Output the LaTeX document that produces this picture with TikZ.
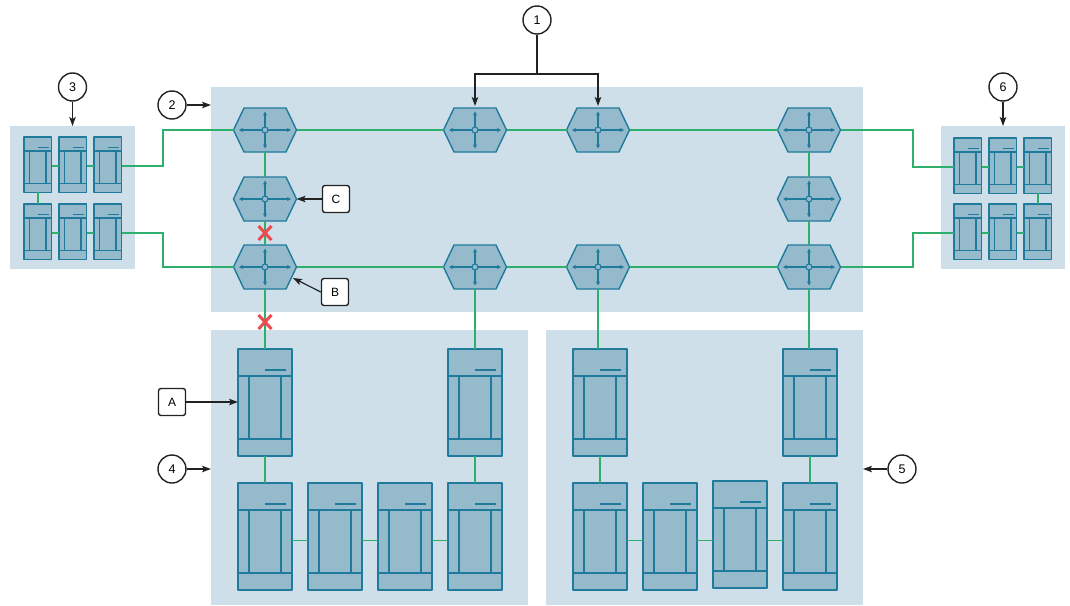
\documentclass[tikz,border=0pt]{standalone}
\usepackage{fontspec}
\setmainfont{Liberation Sans}
\usetikzlibrary{arrows.meta,shapes.misc,calc}
\definecolor{bgblue}{HTML}{CFDFE9}
\definecolor{unitfill}{HTML}{95BACC}
\definecolor{unitline}{HTML}{1F7A9C}
\definecolor{linkgreen}{HTML}{2FAF6C}
\definecolor{crossred}{HTML}{EE4B50}
\definecolor{leadgray}{HTML}{222222}
\tikzset{
  zone/.style={fill=bgblue,draw=none,inner sep=0pt,outer sep=0pt},
  unitbody/.style={draw=unitline,fill=unitfill,line join=round},
  unitin/.style={draw=unitline},
  hexanchor/.style={inner sep=0pt,outer sep=0pt,minimum width=63pt,minimum height=44pt},
  rackanchor/.style={inner sep=0pt,outer sep=0pt,minimum width=54pt,minimum height=107pt,transform shape},
  link/.style={draw=linkgreen,line width=1.6pt},
  thinlink/.style={draw=linkgreen,line width=1.6pt},
  heavylink/.style={draw=linkgreen,line width=2pt,line join=miter},
  lead/.style={draw=leadgray,line width=1.2pt,-{Stealth[length=9pt,width=6.5pt,inset=2pt]}},
  plainlead/.style={draw=leadgray,line width=1.2pt},
  callout/.style={circle,draw=leadgray,fill=white,line width=1.4pt,minimum size=28pt,inner sep=0pt,font=\fontsize{12.5}{14}\selectfont},
  keybox/.style={rectangle,rounded corners=2.5pt,draw=leadgray,fill=white,line width=1.4pt,minimum size=27pt,inner sep=0pt,font=\fontsize{12}{14}\selectfont},
  crossmark/.style={cross out,draw=crossred,line width=3pt,minimum width=13pt,minimum height=14pt,inner sep=0pt,outer sep=0pt},
}
% hexagonal switch: name, centre x, centre y
\newcommand{\hexunit}[3]{%
  \node[hexanchor] (#1) at (#2,#3) {};
  \begin{scope}[shift={(#2,#3)}]
    \draw[unitbody,line width=1.4pt] (-31.5,0) -- (-21,-22) -- (21,-22) -- (31.5,0) -- (21,22) -- (-21,22) -- cycle;
    \draw[unitin,line width=1.1pt,{Stealth[length=4pt,width=4pt]}-{Stealth[length=4pt,width=4pt]}] (-26,0) -- (26,0);
    \draw[unitin,line width=1.1pt,{Stealth[length=4pt,width=4pt]}-{Stealth[length=4pt,width=4pt]}] (0,-18.5) -- (0,18.5);
    \draw[unitin,fill=unitfill,line width=1.1pt] (0,0) circle (3pt);
  \end{scope}}
% rack: name, left, top, scale, line width, inner line width
\newcommand{\rackunit}[6]{%
  \begin{scope}[shift={(#2,#3)},scale=#4]
    \node[rackanchor] (#1) at (27,53.5) {};
    \draw[unitbody,line width=#5] (0,0) rectangle (54,107);
    \draw[unitin,line width=#5] (0,27) -- (54,27) (0,90) -- (54,90);
    \draw[unitin,line width=#6] (11,27) -- (11,90) (43,27) -- (43,90);
    \draw[unitin,line width=#5] (27,21) -- (48,21);
  \end{scope}}
\newcommand{\bigrack}[3]{\rackunit{#1}{#2}{#3}{1}{1.2pt}{1.6pt}}
\newcommand{\smallrack}[3]{\rackunit{#1}{#2}{#3}{.515}{1.2pt}{1.4pt}}
\begin{document}
\begin{tikzpicture}[x=1pt,y=-1pt]
\useasboundingbox (0,0) rectangle (1070,605);
% zones
\node[zone,minimum width=652pt,minimum height=225pt] (zoneM) at (537,199.5) {};
\node[zone,minimum width=317pt,minimum height=275pt] (zoneLL) at (369.5,467.5) {};
\node[zone,minimum width=317pt,minimum height=275pt] (zoneLR) at (704.5,467.5) {};
\node[zone,minimum width=125pt,minimum height=143pt] (zoneL) at (72.5,197.5) {};
\node[zone,minimum width=124pt,minimum height=143pt] (zoneR) at (1003,197.5) {};
% switches
\hexunit{t1}{265}{130}\hexunit{t2}{475}{130}\hexunit{t3}{598}{130}\hexunit{t4}{809}{130}
\hexunit{hC}{265}{199}\hexunit{m4}{809}{199}
\hexunit{hB}{265}{267}\hexunit{b2}{475}{267}\hexunit{b3}{598}{267}\hexunit{b4}{809}{267}
% large racks
\bigrack{rA}{238}{349}\bigrack{r2}{448}{349}
\bigrack{r3}{573}{349}\bigrack{r4}{783}{349}
\bigrack{q1}{238}{483}\bigrack{q2}{308}{483}\bigrack{q3}{378}{483}\bigrack{q4}{448}{483}
\bigrack{s1}{573}{483}\bigrack{s2}{643}{483}\bigrack{s3}{713}{481}\bigrack{s4}{783}{483}
% small racks
\smallrack{la1}{24}{137}\smallrack{la2}{59}{137}\smallrack{la3}{94}{137}
\smallrack{lb1}{24}{204}\smallrack{lb2}{59}{204}\smallrack{lb3}{94}{204}
\smallrack{ra1}{954}{138}\smallrack{ra2}{989}{138}\smallrack{ra3}{1024}{138}
\smallrack{rb1}{954}{204}\smallrack{rb2}{989}{204}\smallrack{rb3}{1024}{204}
% top row and bottom row links
\draw[link] (t1.east) -- (t2.west) (t2.east) -- (t3.west) (t3.east) -- (t4.west);
\draw[link] (hB.east) -- (b2.west) (b2.east) -- (b3.west) (b3.east) -- (b4.west);
% vertical links
\draw[link] (t1.south) -- (hC.north) (hC.south) -- (hB.north) (hB.south) -- (rA.north);
\draw[link] (t4.south) -- (m4.north) (m4.south) -- (b4.north) (b4.south) -- (b4.south |- r4.north);
\draw[link] (b2.south) -- (r2.north) (b3.south) -- (b3.south |- r3.north);
\draw[link] (rA.south) -- (q1.north) (r2.south) -- (q4.north) (r3.south) -- (s1.north) (r4.south) -- (s4.north);
% lower rack links
\foreach \a/\b in {q1/q2,q2/q3,q3/q4,s1/s2}{\draw[thinlink] ([yshift=-4pt]\a.east) -- ([yshift=-4pt]\b.west);}
\draw[thinlink] ([yshift=-4pt]s2.east) -- ([yshift=-6pt]s3.west);
\draw[thinlink] ([yshift=-6pt]s3.east) -- ([yshift=-4pt]s4.west);
% small rack links
\foreach \a/\b in {la1/la2,la2/la3,lb1/lb2,lb2/lb3,ra1/ra2,ra2/ra3,rb1/rb2,rb2/rb3}{\draw[heavylink] ([yshift=-1.5pt]\a.east) -- ([yshift=-1.5pt]\b.west);}
\draw[heavylink] (la1.south) -- (lb1.north);
\draw[heavylink] (ra3.south) -- (rb3.north);
% external links
\draw[heavylink] ([yshift=-1.5pt]la3.east) -- ++(41,0) |- (t1.west);
\draw[heavylink] ([yshift=-1.5pt]lb3.east) -- ++(41,0) |- (hB.west);
\draw[heavylink] ([yshift=-1.5pt]ra1.west) -- ++(-41,0) |- (t4.east);
\draw[heavylink] ([yshift=-1.5pt]rb1.west) -- ++(-41,0) |- (b4.east);
% failure marks
\node[crossmark] (x1) at (265,233) {};
\node[crossmark] (x2) at (265,322) {};
% callouts
\node[callout] (n1) at (537,20) {1};
\node[callout] (n2) at (172,105) {2};
\node[callout] (n3) at (72.5,87) {3};
\node[callout] (n4) at (172,469) {4};
\node[callout] (n5) at (902,469) {5};
\node[callout] (n6) at (1003,87) {6};
\node[keybox] (kA) at (172,402) {A};
\node[keybox] (kB) at (335,292) {B};
\node[keybox] (kC) at (336,199) {C};
\coordinate (tipB) at (293,278);
\coordinate (fork) at (537,74);
\draw[plainlead] (n1.south) -- (fork);
\draw[lead,shorten >=2pt] (fork) -| (t2.north);
\draw[lead,shorten >=2pt] (fork) -| (t3.north);
\draw[lead] (n2.east) -- (zoneM.west |- n2);
\draw[lead] (n3.south) -- (zoneL.north);
\draw[lead] (n4.east) -- (zoneLL.west |- n4);
\draw[lead] (n5.west) -- (zoneLR.east |- n5);
\draw[lead] (n6.south) -- (zoneR.north);
\draw[lead] (kA.east) -- (rA.west |- kA);
\draw[lead] (kB.west) -- (tipB);
\draw[lead] (kC.west) -- (hC.east);
\end{tikzpicture}
\end{document}
